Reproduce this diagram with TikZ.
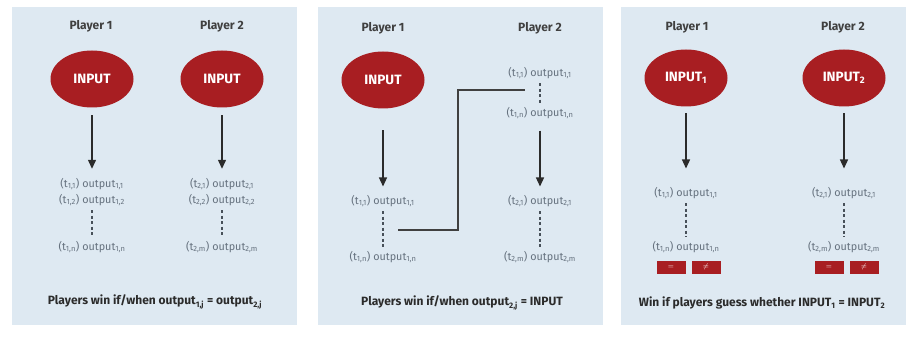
\documentclass[tikz,border=0pt]{standalone}
\usepackage{fontspec}
\setmainfont{Fira Sans}
\usetikzlibrary{arrows.meta,shapes.geometric}
\definecolor{panelbg}{HTML}{DEE9F2}
\definecolor{inred}{HTML}{A81E22}
\definecolor{outgray}{HTML}{66727F}
\definecolor{ink}{HTML}{2B2B2B}
\newcommand\sbx[1]{\textsubscript{#1}}
\tikzset{
  panel/.style={fill=panelbg, draw=none},
  player/.style={font=\fontsize{12}{14}\selectfont\bfseries, text=ink!90},
  inbubble/.style={ellipse, fill=inred, minimum width=83pt, minimum height=57pt,
    inner sep=0pt, text=white, font=\fontsize{13.5}{15}\selectfont\bfseries},
  outtxt/.style={text=outgray, font=\fontsize{10.8}{12}\selectfont, inner sep=1pt},
  flow/.style={-{Triangle[width=8pt,length=9pt]}, line width=1.3pt, draw=ink},
  dots/.style={draw=outgray!70!black, line width=1.1pt, dash pattern=on 3pt off 2.5pt,
    shorten <=3pt, shorten >=2.5pt},
  link/.style={draw=ink!90, line width=1.2pt},
  caption/.style={text=ink, font=\fontsize{12}{14}\selectfont\bfseries},
  guess/.style={fill=inred, minimum width=29pt, minimum height=13pt, inner sep=0pt,
    text=white, font=\fontsize{7}{7}\selectfont}
}
\begin{document}
\begin{tikzpicture}[x=1pt,y=-1pt]
\useasboundingbox[fill=white] (0,0) rectangle (909,339);

% panels
\fill[panel] (12,7) rectangle (297,325);
\fill[panel] (318,7) rectangle (603,325);
\fill[panel] (621,7) rectangle (906,325);

% ---------- panel 1: both players share the input ----------
\node[player] (a-p1) at (91,26) {Player 1};
\node[player] (a-p2) at (222,26) {Player 2};
\node[inbubble] (a-in1) at (92,79) {INPUT};
\node[inbubble] (a-in2) at (222,79) {INPUT};
\node[outtxt] (a-o11) at (92,184) {(t\sbx{1,1}) output\sbx{1,1}};
\node[outtxt] (a-o12) at (92,200) {(t\sbx{1,2}) output\sbx{1,2}};
\node[outtxt] (a-o1n) at (92,247) {(t\sbx{1,n}) output\sbx{1,n}};
\node[outtxt] (a-o21) at (222,184) {(t\sbx{2,1}) output\sbx{2,1}};
\node[outtxt] (a-o22) at (222,200) {(t\sbx{2,2}) output\sbx{2,2}};
\node[outtxt] (a-o2m) at (222,247) {(t\sbx{2,m}) output\sbx{2,m}};
\draw[flow, shorten <=7.5pt, shorten >=8pt] (a-in1.south) -- (a-o11.north);
\draw[flow, shorten <=7.5pt, shorten >=8pt] (a-in2.south) -- (a-o21.north);
\draw[dots] (a-o12.south) -- (a-o1n.north);
\draw[dots] (a-o22.south) -- (a-o2m.north);
\node[caption] (a-cap) at (155,302) {Players win if/when output\sbx{1,j} = output\sbx{2,j}};

% ---------- panel 2: player 2 must recover the input ----------
\node[player] (b-p1) at (383,28) {Player 1};
\node[player] (b-p2) at (540,28) {Player 2};
\node[inbubble] (b-in) at (383,80) {INPUT};
\node[outtxt] (b-o11) at (383,201) {(t\sbx{1,1}) output\sbx{1,1}};
\node[outtxt] (b-o1n) at (383,257) {(t\sbx{1,n}) output\sbx{1,n}};
\node[outtxt] (b-r11) at (540,73) {(t\sbx{1,1}) output\sbx{1,1}};
\node[outtxt] (b-r1n) at (540,113) {(t\sbx{1,n}) output\sbx{1,n}};
\node[outtxt] (b-o21) at (540,201) {(t\sbx{2,1}) output\sbx{2,1}};
\node[outtxt] (b-o2m) at (540,257) {(t\sbx{2,m}) output\sbx{2,m}};
\draw[flow, shorten <=21.5pt, shorten >=7.3pt] (b-in.south) -- (b-o11.north);
\draw[flow, shorten <=10.3pt, shorten >=7.3pt] (b-r1n.south) -- (b-o21.north);
\draw[dots] (b-o11.south) -- (b-o1n.north);
\draw[dots] (b-r11.south) -- (b-r1n.north);
\draw[dots] (b-o21.south) -- (b-o2m.north);
\coordinate (b-l0) at (398,230);
\coordinate (b-l1) at (525,90);
\draw[link] (b-l0) -- (458,230) -- (458,90) -- (b-l1);
\node[caption] (b-cap) at (462,303) {Players win if/when output\sbx{2,j} = INPUT};

% ---------- panel 3: guess whether the inputs agree ----------
\node[player] (c-p1) at (687,27) {Player 1};
\node[player] (c-p2) at (843,27) {Player 2};
\node[inbubble] (c-in1) at (686,78) {INPUT\sbx{1}};
\node[inbubble] (c-in2) at (844,78) {INPUT\sbx{2}};
\node[outtxt] (c-o11) at (686,193) {(t\sbx{1,1}) output\sbx{1,1}};
\node[outtxt] (c-o1n) at (686,247) {(t\sbx{1,n}) output\sbx{1,n}};
\node[outtxt] (c-o21) at (844,193) {(t\sbx{2,1}) output\sbx{2,1}};
\node[outtxt] (c-o2m) at (844,247) {(t\sbx{2,m}) output\sbx{2,m}};
\draw[flow, shorten <=6.5pt, shorten >=17.3pt] (c-in1.south) -- (c-o11.north);
\draw[flow, shorten <=6.5pt, shorten >=17.3pt] (c-in2.south) -- (c-o21.north);
\draw[dots] (c-o11.south) -- (c-o1n.north);
\draw[dots] (c-o21.south) -- (c-o2m.north);
\node[guess] (c-eq1) at (671,267) {$=$};
\node[guess] (c-ne1) at (706,267) {$\neq$};
\node[guess] (c-eq2) at (829,267) {$=$};
\node[guess] (c-ne2) at (864,267) {$\neq$};
\node[caption] (c-cap) at (762,303) {Win if players guess whether INPUT\sbx{1} = INPUT\sbx{2}};
\end{tikzpicture}
\end{document}
